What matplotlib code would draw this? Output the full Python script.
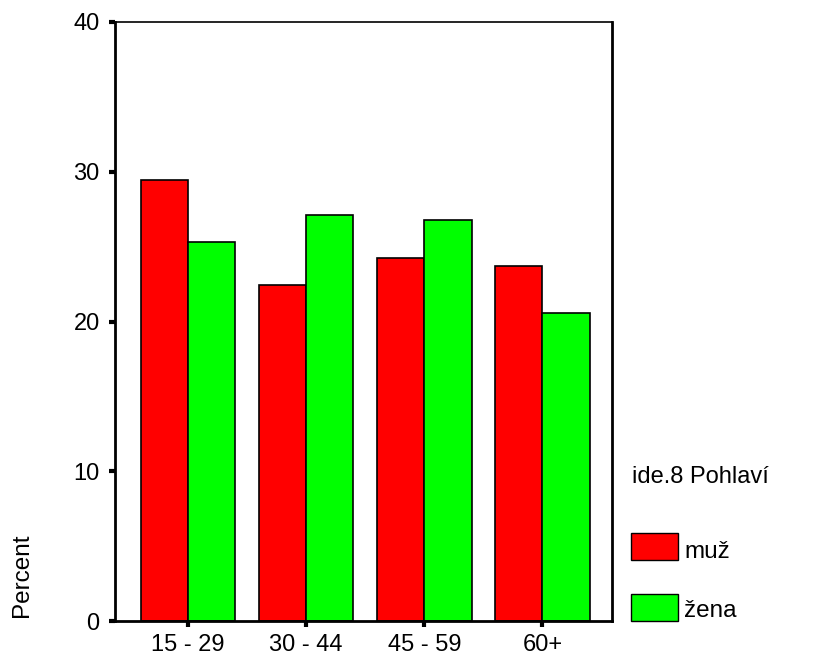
import matplotlib
matplotlib.use("Agg")
import matplotlib.pyplot as plt
from matplotlib.patches import Rectangle
import numpy as np

plt.rcParams["font.family"] = ["Liberation Sans", "DejaVu Sans"]

categories = ["15 - 29", "30 - 44", "45 - 59", "60+"]
muz = [29.47, 22.47, 24.25, 23.70]
zena = [25.33, 27.13, 26.80, 20.55]
series_names = ["muž", "žena"]
legend_title = "ide.8 Pohlaví"
colors = ["#ff0000", "#00ff00"]

fig = plt.figure(figsize=(8.19, 6.55), dpi=100)
ax = fig.add_axes([115/819, 1-621/655, 497/819, 599/655])

x = np.arange(len(categories))
w = 0.4
ax.bar(x - w/2, muz, w, color=colors[0], edgecolor="black", linewidth=1.2)
ax.bar(x + w/2, zena, w, color=colors[1], edgecolor="black", linewidth=1.2)

ax.set_xlim(-0.62, 3.59)
ax.set_ylim(0, 40)
ax.set_yticks([0, 10, 20, 30, 40])
ax.set_xticks(x)
ax.set_xticklabels(categories)
ax.tick_params(axis="both", labelsize=17, length=4.5, width=3, direction="out")
ax.tick_params(axis="y", pad=6.5)
ax.tick_params(axis="x", pad=5)
for side in ["left", "bottom"]:
    ax.spines[side].set_linewidth(2)
ax.spines["top"].set_linewidth(1.2)
ax.spines["right"].set_linewidth(2)

fig.text(22/819, 1-575/655, "Percent", rotation=90, ha="center", va="center", fontsize=17.5)

# legend drawn by hand in figure pixels
fig.text(632/819, 1-483/655, legend_title, ha="left", va="baseline", fontsize=17)
for i, (name, c) in enumerate(zip(series_names, colors)):
    y0 = 533 + i*61
    fig.add_artist(Rectangle((631/819, 1-(y0+27)/655), 47/819, 27/655,
                             transform=fig.transFigure, facecolor=c,
                             edgecolor="black", linewidth=1))
    fig.text(684/819, 1-(558 + i*59)/655, name, ha="left", va="baseline", fontsize=17.5)

fig.savefig("out.png", dpi=100)
